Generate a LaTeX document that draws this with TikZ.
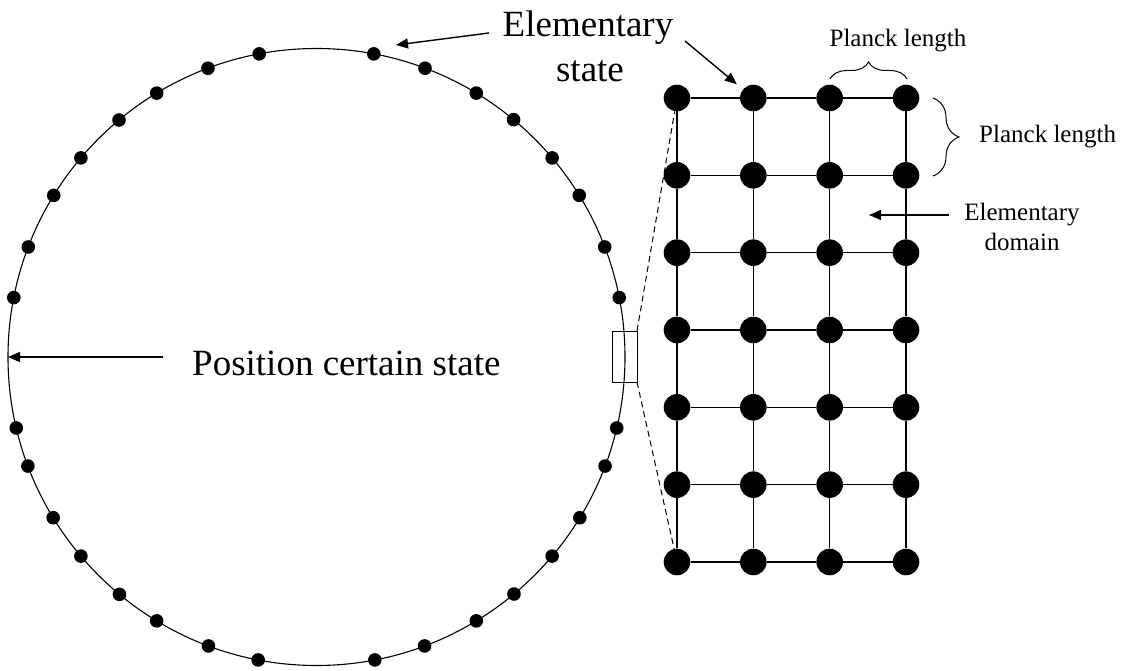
\documentclass[tikz,border=0pt]{standalone}
\usepackage{fontspec}
\setmainfont{Liberation Serif}
\usetikzlibrary{arrows.meta,decorations.pathreplacing}
\begin{document}
\begin{tikzpicture}[x=1pt,y=-1pt,
  cdot/.style={circle,fill=black,inner sep=0pt,minimum size=13.6pt},
  gdot/.style={circle,fill=black,inner sep=0pt,minimum size=26.6pt},
  gline/.style={line width=1.6pt},
  arr/.style={line width=1.4pt,-{Triangle[length=12pt,width=10pt]}},
  big/.style={font=\fontsize{37}{44}\selectfont,inner sep=0pt},
  small/.style={font=\fontsize{25}{30}\selectfont,inner sep=0pt},
  brc/.style={decorate,line width=1pt},
  zoomdash/.style={line width=1pt,dash pattern=on 6pt off 4pt}]
\useasboundingbox (0,0) rectangle (1121,671);
% big circle
\node[circle,draw,line width=1.1pt,minimum size=617pt,inner sep=0pt,outer sep=0pt] (C) at (316.5,357) {};
\foreach \a [count=\i] in {11.1,20.9,31.6,40.2,50.3,58.8,69.4,79.3,100.7,110.6,121.2,129.8,139.8,148.4,159.1,168.9,193.3,200.7,211.4,220.2,230.3,238.8,249.5,259.1,280.9,290.5,301.2,309.8,319.8,328.6,339.3,346.7}
  \node[cdot] (cd\i) at ([shift={(\a:308.5pt)}]C.center) {};
% zoom rectangle
\node[draw,line width=0.9pt,minimum width=25pt,minimum height=51pt,inner sep=0pt,outer sep=0pt] (Z) at (624.5,356.5) {};
% grid
\foreach \r in {1,...,7}
  \foreach \c in {1,...,4}
    \node[gdot] (g\r-\c) at ({677+(\c-1)*76.33},{98+(\r-1)*77.33}) {};
\foreach \r in {1,...,7}
  \foreach \c/\d in {1/2,2/3,3/4}
    \draw[gline] (g\r-\c) -- (g\r-\d);
\foreach \c in {1,...,4}
  \foreach \r/\s in {1/2,2/3,3/4,4/5,5/6,6/7}
    \draw[gline] (g\r-\c) -- (g\s-\c);
% dashed zoom lines
\draw[zoomdash] (Z.north east) -- (g1-1);
\draw[zoomdash] (Z.south east) -- (g7-1);
% labels
\node[big,anchor=base] (el1) at (588,37) {Elementary};
\node[big,anchor=base] (el2) at (590,82) {state};
\node[big,anchor=base west] (pcs) at (192,375) {Position certain state};
\node[small,anchor=base] (pl1) at (898,47) {Planck length};
\node[small,anchor=base west] (pl2) at (979,143) {Planck length};
\node[small,anchor=base] (ed1) at (1022,220) {Elementary};
\node[small,anchor=base] (ed2) at (1022,250) {domain};
% arrows
\coordinate (a1) at (489,33);
\coordinate (a1t) at (396,45);
\draw[arr] (a1) -- (a1t);
\coordinate (a2) at (685,41);
\draw[arr,shorten >=8pt] (a2) -- (g1-2);
\coordinate (a3) at (163,357);
\draw[arr] (a3) -- (C.west);
\coordinate (a4) at (949,215);
\coordinate (a4t) at (869,215);
\draw[arr] (a4) -- (a4t);
% braces
\draw[brc,decoration={brace,amplitude=17pt}] (830,79) -- (907,79);
\draw[brc,decoration={brace,amplitude=26pt}] (933,98) -- (933,176);
\end{tikzpicture}
\end{document}
